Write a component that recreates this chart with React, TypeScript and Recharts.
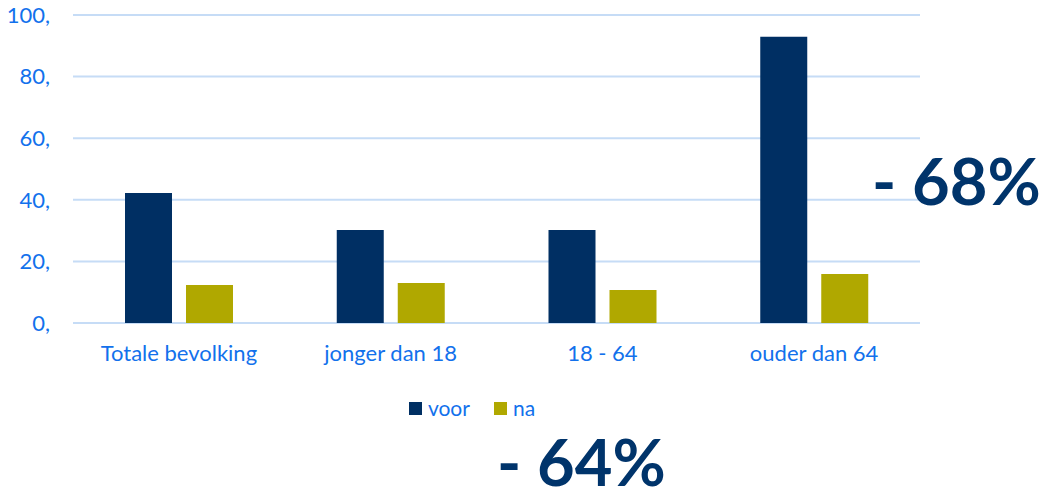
import React from 'react';
import { BarChart, Bar, XAxis, YAxis, CartesianGrid, Legend } from 'recharts';

const categories = ['Totale bevolking', 'jonger dan 18', '18 - 64', 'ouder dan 64'];
const voorValues = [42.2, 30.2, 30.2, 92.9];
const naValues = [12.3, 13.0, 10.7, 15.9];
const yTicks = [0, 20, 40, 60, 80, 100];
const seriesNames = ['voor', 'na'];
const annotations = ['- 68%', '- 64%'];

const data = categories.map((c, i) => ({ name: c, voor: voorValues[i], na: naValues[i] }));

const FONT = 'Lato, "Open Sans", sans-serif';
const TEXT_BLUE = '#1271ec';
const VOOR = '#002f63';
const NA = '#b0a800';
const BIG = '#00346b';

const LegendContent = () => (
  <div style={{ display: 'flex', justifyContent: 'center', fontFamily: FONT, fontSize: 21, color: TEXT_BLUE, paddingTop: 22, lineHeight: '26px' }}>
    {seriesNames.map((n, i) => (
      <div key={n} style={{ display: 'flex', alignItems: 'center', marginRight: i === 0 ? 24 : 0 }}>
        <span style={{ width: 13, height: 13, background: i === 0 ? VOOR : NA, display: 'inline-block', marginRight: 6 }} />
        <span>{n}</span>
      </div>
    ))}
  </div>
);

export default function App() {
  return (
    <div style={{ position: 'absolute', left: 0, top: 0, width: 1043, height: 490, background: '#fff', overflow: 'hidden' }}>
      <BarChart
        width={1043}
        height={490}
        data={data}
        margin={{ top: 15, right: 123, bottom: 0, left: 0 }}
        barSize={47}
        barGap={14}
      >
        <CartesianGrid vertical={false} stroke="#c6dcf6" strokeWidth={2} />
        <XAxis
          dataKey="name"
          axisLine={false}
          tickLine={false}
          tickMargin={16}
          height={50}
          tick={{ fill: TEXT_BLUE, fontSize: 22, fontFamily: FONT }}
        />
        <YAxis
          width={73}
          domain={[0, 100]}
          ticks={yTicks}
          axisLine={false}
          tickLine={false}
          tickMargin={17}
          tickFormatter={(v: number) => `${v},`}
          tick={{ fill: TEXT_BLUE, fontSize: 22, fontFamily: FONT }}
        />
        <Legend
          verticalAlign="bottom"
          height={117}
          content={<LegendContent />}
          wrapperStyle={{ left: 0, width: 944 }}
        />
        <Bar dataKey="voor" name="voor" fill={VOOR} isAnimationActive={false} />
        <Bar dataKey="na" name="na" fill={NA} isAnimationActive={false} />
      </BarChart>
      <div style={{ position: 'absolute', left: 872, top: 148, fontFamily: FONT, fontWeight: 700, fontSize: 65, lineHeight: 1, color: BIG, whiteSpace: 'nowrap' }}>
        {annotations[0]}
      </div>
      <div style={{ position: 'absolute', left: 497, top: 429, fontFamily: FONT, fontWeight: 700, fontSize: 65, lineHeight: 1, color: BIG, whiteSpace: 'nowrap' }}>
        {annotations[1]}
      </div>
    </div>
  );
}
